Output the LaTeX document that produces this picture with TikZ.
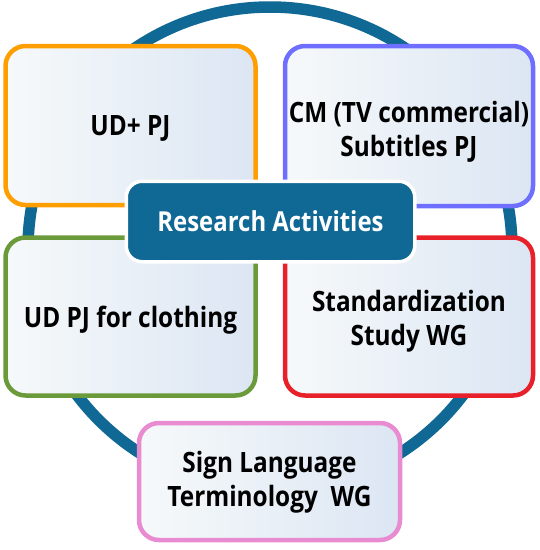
\documentclass[tikz,border=0pt]{standalone}
\usepackage{fontspec}
\setmainfont{Open Sans}[BoldFont={* Bold},FakeStretch=0.87]
\definecolor{ringblue}{RGB}{16,104,148}
\definecolor{corefill}{RGB}{16,104,148}
\definecolor{cOrange}{RGB}{255,158,0}
\definecolor{cPurple}{RGB}{111,111,255}
\definecolor{cGreen}{RGB}{106,154,58}
\definecolor{cRed}{RGB}{232,32,42}
\definecolor{cPink}{RGB}{233,139,208}
\definecolor{gradL}{RGB}{246,249,250}
\definecolor{gradR}{RGB}{220,230,243}
\tikzset{
  pbox/.style={rounded corners=20pt, line width=4.5pt, shading=axis,
    left color=gradL, right color=gradR, shading angle=90, inner sep=0pt},
  ptext/.style={align=center, inner sep=0pt,
    font=\fontsize{28}{34}\selectfont\bfseries, text=black},
  corebox/.style={rounded corners=16pt, fill=corefill, draw=white, line width=3.5pt,
    minimum width=288.5pt, minimum height=80.5pt, inner sep=0pt,
    font=\fontsize{27.5}{34}\selectfont\bfseries, text=white},
  ring/.style={draw=ringblue, line width=11.5pt}
}
\begin{document}
\begin{tikzpicture}[x=1pt,y=-1pt]
\useasboundingbox (0,0) rectangle (540,550);
\node[circle, ring, minimum size=484pt, inner sep=0pt] (ringc) at (270,249) {};
\node[pbox, draw=cOrange, minimum width=250pt, minimum height=159pt] (ud) at (130.5,125.5) {};
\node[pbox, draw=cPurple, minimum width=248pt, minimum height=160pt] (cm) at (409,126) {};
\node[pbox, draw=cGreen, minimum width=250pt, minimum height=158pt] (cloth) at (130.5,316.5) {};
\node[pbox, draw=cRed, minimum width=248pt, minimum height=158pt] (std) at (409,316.5) {};
\node[pbox, draw=cPink, minimum width=261pt, minimum height=117pt] (sign) at (269.5,481.5) {};
\node[ptext] (udt) at ([yshift=-3pt]ud.center) {UD+ PJ};
\node[ptext] (cmt) at ([yshift=-6pt]cm.center) {CM (TV commercial)\\Subtitles PJ};
\node[ptext] (clotht) at ([yshift=-4pt]cloth.center) {UD PJ for clothing};
\node[ptext] (stdt) at ([yshift=-5pt]std.center) {Standardization\\Study WG};
\node[ptext] (signt) at ([yshift=-1pt]sign.center) {Sign Language\\Terminology\ \ WG};
\node[corebox] (core) at (270.5,221.5) {Research Activities};
\end{tikzpicture}
\end{document}
